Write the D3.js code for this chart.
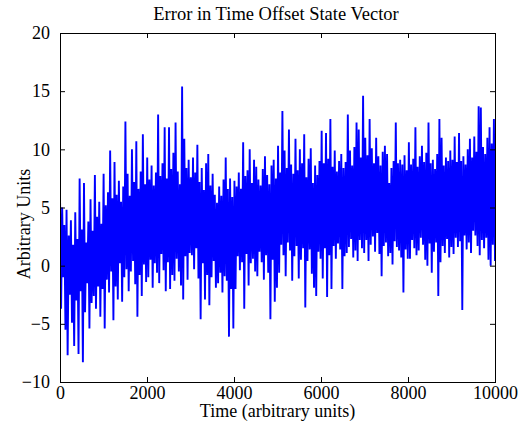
<!DOCTYPE html>
<html>
<head>
<meta charset="utf-8">
<script src="https://cdn.jsdelivr.net/npm/d3@7"></script>
<style>
  body { margin: 0; background: #fff; }
  text { font-family: "Liberation Serif", "Times New Roman", serif; fill: #000; }
</style>
</head>
<body>
<script>
// values: local highs and lows, one pair every ~50 time units
const highs = [
  6.2, 5.0, 3.5, 4.8, 2.6, 3.9, 1.8, 4.6, 2.3, 7.5, 3.1, 7.1, 2.0, 3.8, 5.7, 3.0, 7.8, 4.2, 5.5, 3.6,
  7.9, 5.2, 6.3, 9.9, 5.8, 8.9, 6.1, 7.3, 5.5, 6.8, 12.4, 7.9, 6.0, 10.0, 7.2, 10.7, 6.6, 8.1, 11.3, 7.0,
  9.3, 7.4, 8.6, 6.9, 8.0, 13.0, 7.7, 8.8, 11.9, 7.5, 11.9, 8.3, 9.7, 12.3, 8.1, 7.0, 15.4, 10.9, 8.4, 9.1,
  7.6, 9.3, 8.0, 10.4, 7.2, 8.4, 6.5, 8.8, 9.6, 6.9, 7.9, 6.1, 5.4, 6.8, 6.0, 7.4, 9.3, 6.6, 7.5, 5.9,
  7.3, 6.8, 8.0, 6.6, 10.6, 7.7, 8.2, 10.0, 7.1, 9.1, 8.5, 7.4, 6.9, 8.3, 9.4, 7.8, 7.0, 8.6, 9.1, 7.5,
  10.3, 8.0, 13.3, 9.9, 8.4, 11.7, 8.7, 7.9, 10.9, 8.2, 10.0, 8.8, 11.3, 7.6, 9.2, 10.1, 7.1, 8.6, 7.8, 9.0,
  11.6, 8.8, 11.4, 9.2, 12.6, 8.5, 9.9, 8.1, 9.0, 9.6, 8.4, 8.9, 13.0, 9.9, 8.6, 10.2, 12.3, 11.7, 9.3, 14.6,
  11.0, 9.5, 12.6, 10.1, 8.8, 11.0, 9.4, 8.6, 9.8, 10.3, 9.6, 7.1, 8.4, 9.0, 12.3, 8.8, 9.1, 8.7, 9.5, 8.2,
  10.6, 8.7, 9.2, 11.9, 8.5, 9.4, 10.3, 8.9, 9.7, 12.3, 8.8, 9.1, 8.3, 9.6, 12.6, 11.0, 8.6, 9.3, 9.0, 9.9,
  9.1, 11.1, 8.9, 11.4, 9.0, 9.4, 8.7, 10.0, 10.9, 9.3, 11.1, 9.8, 13.7, 13.6, 10.2, 9.6, 11.0, 11.9, 10.5, 12.6
]
const lows = [
  -3.7, -1.0, -5.5, -7.7, -2.5, -4.9, -6.9, -3.0, -7.6, -2.2, -8.3, -4.0, -1.5, -5.4, -3.2, -2.6, -3.7, -1.8, -4.4, -2.0,
  -5.4, -1.2, -2.3, -0.5, -4.7, -1.8, -2.9, 0.2, -3.1, -1.0, -0.3, -2.2, -0.5, 0.4, -1.6, -4.4, -0.8, -2.6, 0.1, -1.4,
  -1.0, 0.5, -1.9, 0.2, -0.6, -1.5, 1.0, -0.4, -2.2, 0.3, -2.0, -0.8, -1.3, 0.6, -0.5, -1.7, -2.9, 0.8, -1.2, 1.1,
  0.9, -0.3, 1.5, -1.1, -4.6, 0.2, -2.9, -0.8, -3.4, -1.0, 0.4, -1.9, -1.5, -0.6, -2.3, -0.9, -1.3, -6.1, -2.0, -5.4,
  -2.0, 0.8, -0.4, 0.3, -3.7, 1.0, -1.7, 0.2, 0.6, -0.5, -0.9, 1.2, 0.3, -1.2, 0.9, -0.6, -4.6, 0.5, -3.1, -1.9,
  -0.6, 1.8, 0.9, -0.9, 2.0, 1.3, -1.3, 0.8, 1.7, -1.1, 0.5, 1.5, -3.6, 0.4, 1.4, -0.7, -1.9, -2.6, 1.2, 0.6,
  -1.1, 1.5, -2.7, 0.9, -2.0, 1.7, 0.6, 1.9, 1.4, -2.0, 0.8, 1.1, 1.6, 2.3, 0.7, 1.3, 0.4, 2.2, 1.5, 1.1,
  2.2, 0.4, 1.8, 2.5, 1.2, 2.8, 1.0, -0.9, 1.7, 2.0, 0.8, 1.1, 0.1, 2.1, 1.6, 1.3, 0.7, -2.3, 1.4, 0.6,
  0.6, 2.2, 1.5, 0.9, 1.3, 2.4, 1.8, 0.5, 0.0, 1.9, -0.6, 1.2, 2.0, -2.6, 0.3, 1.7, 1.1, 2.3, 0.7, 1.6,
  1.0, 2.4, 1.6, 2.1, -3.8, 2.6, 1.4, 2.0, 1.1, 3.0, 2.6, 1.7, 0.9, 2.2, 1.5, 2.4, 0.5, 0.0, 1.8, 0.4
]
const xTicks = [0, 2000, 4000, 6000, 8000, 10000]
const yTicks = [-10, -5, 0, 5, 10, 15, 20]

const titleText = "Error in Time Offset State Vector"
const xLabelText = "Time (arbitrary units)"
const yLabelText = "Arbitrary Units"

// interleave highs and lows into one series spanning 0..10000
const n = highs.length * 2
const dataset = []
highs.forEach((h, i) => {
  dataset.push([(2 * i) * 10000 / (n - 1), h])
  dataset.push([(2 * i + 1) * 10000 / (n - 1), lows[i]])
})

const xAccessor = d => d[0]
const yAccessor = d => d[1]

let dimensions = {
  width: 523,
  height: 427,
  margin: { top: 33, right: 28, bottom: 45, left: 60 },
}
dimensions.boundedWidth = dimensions.width - dimensions.margin.left - dimensions.margin.right
dimensions.boundedHeight = dimensions.height - dimensions.margin.top - dimensions.margin.bottom

const wrapper = d3.select("body")
  .append("svg")
    .attr("width", dimensions.width)
    .attr("height", dimensions.height)

const bounds = wrapper.append("g")
  .attr("transform", `translate(${dimensions.margin.left}, ${dimensions.margin.top})`)

const xScale = d3.scaleLinear()
  .domain([0, 10000])
  .range([0, dimensions.boundedWidth])

const yScale = d3.scaleLinear()
  .domain([-10, 20])
  .range([dimensions.boundedHeight, 0])

bounds.append("defs").append("clipPath")
    .attr("id", "clip")
  .append("rect")
    .attr("width", dimensions.boundedWidth)
    .attr("height", dimensions.boundedHeight)

// the line
const lineGenerator = d3.line()
  .x(d => xScale(xAccessor(d)))
  .y(d => yScale(yAccessor(d)))

bounds.append("path")
    .attr("clip-path", "url(#clip)")
    .attr("d", lineGenerator(dataset))
    .attr("fill", "none")
    .attr("stroke", "#0000ff")
    .attr("stroke-width", 1.9)
    .attr("stroke-linejoin", "bevel")

// axes: ticks inside on all four sides
const tickLen = 5
const styleAxis = g => {
  g.select(".domain").remove()
  g.selectAll("line").attr("stroke", "#000")
  g.selectAll("text").style("font-size", "18px").attr("fill", "#000")
}

bounds.append("g")
    .attr("transform", `translate(0, ${dimensions.boundedHeight})`)
    .call(d3.axisBottom(xScale).tickValues(xTicks).tickFormat(d3.format("d"))
      .tickSizeInner(-tickLen).tickSizeOuter(0).tickPadding(4))
    .call(styleAxis)

bounds.append("g")
    .call(d3.axisTop(xScale).tickValues(xTicks).tickSizeInner(-tickLen).tickSizeOuter(0).tickFormat(""))
    .call(styleAxis)

bounds.append("g")
    .call(d3.axisLeft(yScale).tickValues(yTicks).tickSizeInner(-tickLen).tickSizeOuter(0).tickPadding(10))
    .call(styleAxis)

bounds.append("g")
    .attr("transform", `translate(${dimensions.boundedWidth}, 0)`)
    .call(d3.axisRight(yScale).tickValues(yTicks).tickSizeInner(-tickLen).tickSizeOuter(0).tickFormat(""))
    .call(styleAxis)

// box
bounds.append("rect")
    .attr("x", 0.5)
    .attr("y", 0.5)
    .attr("width", dimensions.boundedWidth)
    .attr("height", dimensions.boundedHeight)
    .attr("fill", "none")
    .attr("stroke", "#000")
    .attr("stroke-width", 1)

// labels
wrapper.append("text")
    .attr("x", 276)
    .attr("y", 20)
    .attr("text-anchor", "middle")
    .style("font-size", "18.5px")
    .text(titleText)

wrapper.append("text")
    .attr("x", dimensions.margin.left + dimensions.boundedWidth / 2)
    .attr("y", 417)
    .attr("text-anchor", "middle")
    .style("font-size", "18px")
    .text(xLabelText)

wrapper.append("text")
    .attr("transform", `translate(30, 224) rotate(-90)`)
    .attr("text-anchor", "middle")
    .style("font-size", "18px")
    .text(yLabelText)
</script>
</body>
</html>
